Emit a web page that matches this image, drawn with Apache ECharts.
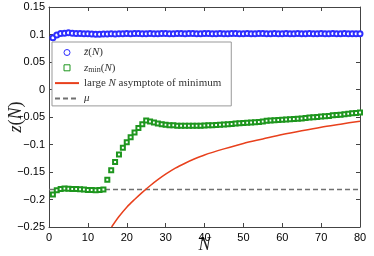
<!DOCTYPE html>
<html><head><meta charset="utf-8">
<script src="https://cdn.jsdelivr.net/npm/echarts@6/dist/echarts.min.js"></script>
<style>html,body{margin:0;padding:0;background:#fff}#c{width:374px;height:256px}</style>
</head><body><div id="c"></div>
<script>
// N values
var nValues = [1,2,3,4,5,6,7,8,9,10,11,12,13,14,15,16,17,18,19,20,21,22,23,24,25,26,27,28,29,30,31,32,33,34,35,36,37,38,39,40,41,42,43,44,45,46,47,48,49,50,51,52,53,54,55,56,57,58,59,60,61,62,63,64,65,66,67,68,69,70,71,72,73,74,75,76,77,78,79,80];
// mean z(N)
var zBar = [0.094,0.099,0.102,0.1025,0.103,0.1025,0.102,0.102,0.1015,0.1015,0.101,0.1005,0.1005,0.101,0.101,0.1015,0.101,0.1015,0.1015,0.102,
0.1015,0.102,0.102,0.1015,0.1015,0.102,0.1015,0.1015,0.102,0.102,0.1015,0.1015,0.102,0.102,0.1015,0.102,0.102,0.1015,0.1015,0.102,
0.102,0.1015,0.1015,0.102,0.1015,0.1015,0.102,0.102,0.1015,0.1015,0.102,0.1015,0.1015,0.102,0.102,0.1015,0.1015,0.102,0.1015,0.1015,
0.102,0.1015,0.1015,0.102,0.1015,0.1015,0.102,0.1015,0.1015,0.102,0.1015,0.1015,0.102,0.1015,0.1015,0.102,0.1015,0.1015,0.1015,0.1015];
// minimum z(N)
var zMin = [-0.191,-0.183,-0.181,-0.180,-0.1805,-0.181,-0.181,-0.1815,-0.182,-0.1825,-0.1825,-0.183,-0.1825,-0.182,-0.164,-0.147,-0.132,-0.118,-0.106,-0.096,
-0.087,-0.078,-0.070,-0.063,-0.0565,-0.058,-0.060,-0.062,-0.063,-0.064,-0.065,-0.065,-0.066,-0.066,-0.066,-0.066,-0.066,-0.066,-0.066,-0.0655,
-0.065,-0.065,-0.0645,-0.064,-0.0635,-0.063,-0.0625,-0.062,-0.0615,-0.061,-0.0605,-0.060,-0.0595,-0.059,-0.058,-0.057,-0.0565,-0.056,-0.0555,-0.055,
-0.0545,-0.054,-0.0535,-0.053,-0.0525,-0.052,-0.051,-0.0505,-0.050,-0.049,-0.0485,-0.048,-0.047,-0.0465,-0.046,-0.045,-0.044,-0.043,-0.0425,-0.042];
// large-N asymptote of the minimum
var asymN = [16.1,18,20,22,24,26,28,30,32.5,35,37.5,40,45,50,55,60,65,70,75,80];
var asymZ = [-0.25,-0.231,-0.214,-0.200,-0.187,-0.175,-0.164,-0.154,-0.143,-0.134,-0.126,-0.119,-0.108,-0.098,-0.090,-0.082,-0.075,-0.0685,-0.063,-0.0576];
// mu
var muN = [0,80];
var muZ = [-0.182,-0.182];
var xTicks = {min:0,max:80,interval:10};
var yTicks = {min:-0.25,max:0.15,interval:0.05};

function pairs(xs, ys){ return xs.map(function(x,i){return [x, ys[i]];}); }

var serif = 'Liberation Serif';
var rich = {
  i:{fontFamily:serif,fontStyle:'italic',fontSize:11,color:'#333'},
  r:{fontFamily:serif,fontSize:11,color:'#333'},
  s:{fontFamily:serif,fontSize:8,color:'#333',verticalAlign:'bottom',padding:[4,0,0,0]}
};
var labels = {
  zbar:'{i|z\u0304}{r|(}{i|N}{r|)}',
  zmin:'{i|z}{s|min}{r|(}{i|N}{r|)}',
  asym:'{r|large }{i|N}{r| asymptote of minimum}',
  mu:'{i|\u03bc}'
};
var BLUE='#2d2dff', GREEN='#1e961e', RED='#e8401c', GRAY='#707070';

var chart = echarts.init(document.getElementById('c'));
var axisCommon = {
  axisLine:{show:true,onZero:false,lineStyle:{color:'#444',width:1}},
  axisTick:{show:true,inside:true,length:4,lineStyle:{color:'#444'}},
  splitLine:{show:false}
};
chart.setOption({
  animation:false,
  backgroundColor:'#fff',
  grid:{left:49,right:14,top:7,bottom:29,outerBoundsMode:'none'},
  xAxis:[
    Object.assign({type:'value',min:xTicks.min,max:xTicks.max,interval:xTicks.interval,position:'bottom',
      name:'N',nameLocation:'middle',nameGap:9,nameMoveOverlap:false,
      nameTextStyle:{fontFamily:serif,fontStyle:'italic',fontSize:18,color:'#222'},
      axisLabel:{fontFamily:'Liberation Sans',fontSize:11,color:'#000',margin:5}},axisCommon),
    Object.assign({type:'value',min:xTicks.min,max:xTicks.max,interval:xTicks.interval,position:'top',
      axisLabel:{show:false}},axisCommon)
  ],
  yAxis:[
    Object.assign({type:'value',min:yTicks.min,max:yTicks.max,interval:yTicks.interval,position:'left',
      name:'{i|z}{r|(}{i|N}{r|)}',nameLocation:'middle',nameGap:24,nameMoveOverlap:false,
      nameTextStyle:{rich:{i:{fontFamily:serif,fontStyle:'italic',fontSize:18,color:'#222'},r:{fontFamily:serif,fontSize:18,color:'#222'}}},
      axisLabel:{fontFamily:'Liberation Sans',fontSize:11,color:'#000',margin:4,
        formatter:function(v){return String(+v.toFixed(2)).replace('-','\u2212');}}},axisCommon),
    Object.assign({type:'value',min:yTicks.min,max:yTicks.max,interval:yTicks.interval,position:'right',
      axisLabel:{show:false}},axisCommon)
  ],
  legend:{
    orient:'vertical',left:52,top:42,itemWidth:24,itemHeight:6,itemGap:2.3,
    padding:[4,10,1,2],backgroundColor:'#fff',borderColor:'#999',borderWidth:1,
    textStyle:{fontFamily:serif,fontSize:11,color:'#333',lineHeight:13,rich:rich},
    formatter:function(n){return labels[n];},
    data:[
      {name:'zbar',icon:'circle',itemStyle:{color:'#fff',borderColor:BLUE,borderWidth:1}},
      {name:'zmin',icon:'path://M0,0L10,0L10,10L0,10Z',itemStyle:{color:'#fff',borderColor:GREEN,borderWidth:1}},
      {name:'asym',itemStyle:{opacity:0}},
      {name:'mu',itemStyle:{opacity:0}}
    ]
  },
  series:[
    {name:'zbar',type:'line',data:pairs(nValues,zBar),symbol:'emptyCircle',symbolSize:5,
      itemStyle:{color:BLUE,borderWidth:1},lineStyle:{width:0,opacity:0},z:3},
    {name:'zmin',type:'line',data:pairs(nValues,zMin),symbol:'emptyRect',symbolSize:4,
      itemStyle:{color:GREEN,borderWidth:0.9},lineStyle:{width:0,opacity:0},z:3},
    {name:'asym',type:'line',data:pairs(asymN,asymZ),symbol:'none',smooth:0.3,
      itemStyle:{color:RED},lineStyle:{color:RED,width:1.5},z:2},
    {name:'mu',type:'line',data:pairs(muN,muZ),symbol:'none',
      itemStyle:{color:GRAY},lineStyle:{color:GRAY,width:1.5,type:[5,3]},z:1}
  ]
});
</script></body></html>
